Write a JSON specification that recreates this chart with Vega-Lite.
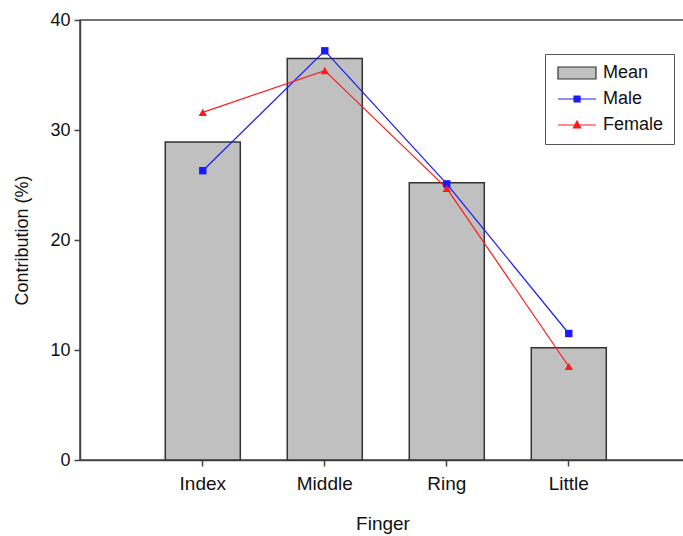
{
  "$schema": "https://vega.github.io/schema/vega-lite/v6.json",
  "autosize": "none",
  "padding": {"left": 80, "top": 20, "right": 0, "bottom": 76},
  "width": 605,
  "height": 440,
  "background": "white",
  "data": {
    "values": [
      {"finger": "Index", "k": 1, "series": "Mean", "value": 28.9},
      {"finger": "Middle", "k": 2, "series": "Mean", "value": 36.5},
      {"finger": "Ring", "k": 3, "series": "Mean", "value": 25.2},
      {"finger": "Little", "k": 4, "series": "Mean", "value": 10.2},
      {"finger": "Index", "k": 1, "series": "Male", "value": 26.3},
      {"finger": "Middle", "k": 2, "series": "Male", "value": 37.2},
      {"finger": "Ring", "k": 3, "series": "Male", "value": 25.1},
      {"finger": "Little", "k": 4, "series": "Male", "value": 11.5},
      {"finger": "Index", "k": 1, "series": "Female", "value": 31.6},
      {"finger": "Middle", "k": 2, "series": "Female", "value": 35.4},
      {"finger": "Ring", "k": 3, "series": "Female", "value": 24.7},
      {"finger": "Little", "k": 4, "series": "Female", "value": 8.5}
    ]
  },
  "encoding": {
    "x": {
      "field": "finger",
      "type": "nominal",
      "sort": ["Index", "Middle", "Ring", "Little"],
      "scale": {"paddingInner": 0.385, "paddingOuter": 0.672, "align": 0.52},
      "axis": {
        "title": "Finger",
        "labelAngle": 0,
        "labelFontSize": 19,
        "labelPadding": 8,
        "titleFontSize": 19,
        "titleFontWeight": "normal",
        "titlePadding": 21,
        "tickSize": 6
      }
    },
    "y": {
      "field": "value",
      "type": "quantitative",
      "scale": {"domain": [0, 40], "nice": false},
      "axis": {
        "title": "Contribution (%)",
        "values": [0, 10, 20, 30, 40],
        "grid": false,
        "labelFontSize": 18,
        "labelPadding": 4,
        "titleFontSize": 18,
        "titleFontWeight": "normal",
        "titlePadding": 18,
        "tickSize": 6
      }
    }
  },
  "layer": [
    {
      "transform": [{"filter": "datum.series === 'Mean'"}],
      "mark": {"type": "bar", "stroke": "#333333", "strokeWidth": 1.5},
      "encoding": {
        "fill": {
          "field": "series",
          "type": "nominal",
          "scale": {
            "domain": ["Mean", "Male", "Female"],
            "range": ["#c0c0c0", "#1a1aff", "#ff1a1a"]
          },
          "legend": {
            "title": null,
            "encode": {
              "symbols": {
                "update": {
                  "shape": {"signal": "datum.value === 'Mean' ? 'M-1,-1H5.33V1H-1Z' : datum.value === 'Male' ? 'M-1,0H5.33M1.67,-0.5H2.67V0.5H1.67Z' : 'M-1,0H5.33M2.17,-0.65L2.77,0.5H1.57Z'"},
                  "stroke": {"signal": "datum.value === 'Mean' ? '#333333' : datum.value === 'Male' ? '#1a1aff' : '#ff1a1a'"},
                  "strokeWidth": {"value": 1.2},
                  "opacity": {"value": 1}
                }
              }
            }
          }
        }
      }
    },
    {
      "transform": [{"filter": "datum.series !== 'Mean'"}],
      "mark": {"type": "line", "strokeWidth": 1.2},
      "encoding": {
        "order": {"field": "k", "type": "quantitative"},
        "stroke": {
          "field": "series",
          "type": "nominal",
          "scale": {
            "domain": ["Mean", "Male", "Female"],
            "range": ["#333333", "#1a1aff", "#ff1a1a"]
          },
          "legend": {
            "title": null,
            "encode": {
              "symbols": {
                "update": {
                  "shape": {"signal": "datum.value === 'Mean' ? 'M-1,-1H5.33V1H-1Z' : datum.value === 'Male' ? 'M-1,0H5.33M1.67,-0.5H2.67V0.5H1.67Z' : 'M-1,0H5.33M2.17,-0.65L2.77,0.5H1.57Z'"},
                  "stroke": {"signal": "datum.value === 'Mean' ? '#333333' : datum.value === 'Male' ? '#1a1aff' : '#ff1a1a'"},
                  "strokeWidth": {"value": 1.2},
                  "opacity": {"value": 1}
                }
              }
            }
          }
        }
      }
    },
    {
      "transform": [{"filter": "datum.series === 'Male'"}],
      "mark": {"type": "point", "shape": "square", "filled": true, "size": 55, "opacity": 1},
      "encoding": {"fill": {"field": "series", "type": "nominal"}}
    },
    {
      "transform": [{"filter": "datum.series === 'Female'"}],
      "mark": {"type": "point", "shape": "triangle-up", "filled": true, "size": 70, "opacity": 1},
      "encoding": {"fill": {"field": "series", "type": "nominal"}}
    }
  ],
  "config": {
    "font": "Liberation Sans",
    "view": {"stroke": "#444444", "strokeWidth": 1.5},
    "axis": {
      "domainColor": "#444444",
      "domainWidth": 1.5,
      "tickColor": "#444444",
      "tickWidth": 1.5,
      "labelColor": "#111111",
      "titleColor": "#111111"
    },
    "legend": {
      "orient": "none",
      "legendX": 465,
      "legendY": 34,
      "strokeColor": "#555555",
      "fillColor": "white",
      "padding": 10,
      "labelFontSize": 18,
      "labelColor": "#111111",
      "labelOffset": 30,
      "rowPadding": 8,
      "symbolSize": 144
    }
  }
}
